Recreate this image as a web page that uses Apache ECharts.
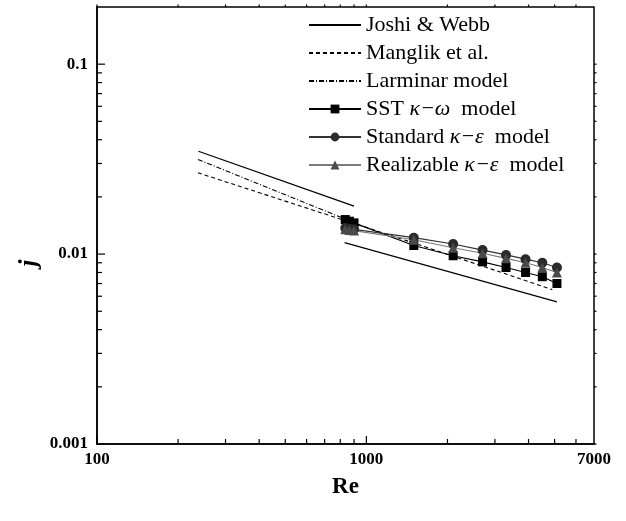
<!DOCTYPE html>
<html><head><meta charset="utf-8">
<script src="https://cdn.jsdelivr.net/npm/echarts@6/dist/echarts.min.js"></script>
<style>html,body{margin:0;padding:0;background:#fff}#c{width:626px;height:521px}</style>
</head><body><div id="c"></div>
<script>
// ---- data ----
const reJW1 = [238, 900];            const jJW1 = [0.0348, 0.0179];
const reJW2 = [830, 5100];           const jJW2 = [0.0115, 0.0056];
const reMang = [237, 812, 1540, 4900]; const jMang = [0.0268, 0.0152, 0.0113, 0.0065];
const reLam = [237, 815];            const jLam = [0.0315, 0.0155];
const reCFD = [835, 865, 900, 1500, 2100, 2700, 3300, 3900, 4500, 5100];
const jSST  = [0.0152, 0.0149, 0.0146, 0.0111, 0.0098, 0.0091, 0.0085, 0.0080, 0.0076, 0.0070];
const jStd  = [0.0137, 0.0136, 0.0135, 0.0122, 0.0113, 0.0105, 0.0099, 0.0094, 0.0090, 0.0085];
const jReal = [0.0135, 0.0134, 0.0133, 0.0119, 0.0108, 0.0101, 0.0095, 0.0090, 0.0085, 0.0080];
const xMajor = [100, 1000];
const xLabels = [100, 1000, 7000];
const xMinor = [200, 300, 400, 500, 600, 700, 800, 900, 2000, 3000, 4000, 5000, 6000];
const yMajor = [0.001, 0.01, 0.1];
const yMinor = [0.002, 0.003, 0.004, 0.005, 0.006, 0.007, 0.008, 0.009, 0.02, 0.03, 0.04, 0.05, 0.06, 0.07, 0.08, 0.09];
const names = ['Joshi & Webb', 'Manglik et al.', 'Larminar model', 'SST κ−ω model', 'Standard κ−ε model', 'Realizable κ−ε model'];

const zip = (a, b) => a.map((v, i) => [v, b[i]]);
const FONT = "'Liberation Serif','Times New Roman',serif";
const X = {min: 100, max: 7000}, Y = {min: 0.001, max: 0.2};

const chart = echarts.init(document.getElementById('c'), null, {renderer: 'canvas'});
const noSym = {color: 'rgba(0,0,0,0)', borderWidth: 0};
const tickStyle = {stroke: '#000', lineWidth: 1.2};
const seg = (x1, y1, x2, y2) => ({type: 'line', shape: {x1, y1, x2, y2}, style: tickStyle, silent: true});

// tick marks drawn through the axes' own coordinate system
function xTickRender(params, api) {
  const v = api.value(0), major = api.value(1) === 1;
  const pb = api.coord([v, Y.min]), pt = api.coord([v, Y.max]);
  const len = major ? 8 : 5;
  return {type: 'group', children: [seg(pb[0], pb[1], pb[0], pb[1] - len), seg(pt[0], pt[1], pt[0], pt[1] - 2.5)]};
}
function yTickRender(params, api) {
  const v = api.value(0), major = api.value(1) === 1;
  const pl = api.coord([X.min, v]), pr = api.coord([X.max, v]);
  const len = major ? 8 : 5;
  return {type: 'group', children: [seg(pl[0], pl[1], pl[0] + len, pl[1]), seg(pr[0], pr[1], pr[0] + 2.5, pr[1])]};
}
const xTickData = xMajor.map(v => [v, 1]).concat(xMinor.map(v => [v, 0]));
const yTickData = yMajor.map(v => [v, 1]).concat(yMinor.map(v => [v, 0]));

chart.setOption({
  animation: false,
  backgroundColor: '#fff',
  grid: {left: 97, right: 32, top: 7, bottom: 77, show: true, borderColor: '#000', borderWidth: 1.5},
  xAxis: {type: 'log', min: X.min, max: X.max, splitLine: {show: false},
    axisLine: {lineStyle: {color: '#000', width: 1.5}},
    axisTick: {show: false},
    axisLabel: {customValues: xLabels, margin: 7, color: '#000', fontFamily: FONT, fontWeight: 'bold', fontSize: 17,
      formatter: v => String(Math.round(v))},
    name: 'Re', nameLocation: 'middle', nameGap: 32,
    nameTextStyle: {color: '#000', fontFamily: FONT, fontWeight: 'bold', fontSize: 23}},
  yAxis: {type: 'log', min: Y.min, max: Y.max, splitLine: {show: false},
    axisLine: {show: true, lineStyle: {color: '#000', width: 1.5}},
    axisTick: {show: false},
    axisLabel: {customValues: yMajor, margin: 9, color: '#000', fontFamily: FONT, fontWeight: 'bold', fontSize: 17,
      formatter: v => (v >= 0.1 ? '0.1' : v >= 0.01 ? '0.01' : '0.001')}},
  graphic: [{type: 'text', x: 30, y: 263, rotation: Math.PI / 2,
    style: {text: 'j', font: "italic bold 25px 'Liberation Serif', serif", fill: '#000', align: 'center', verticalAlign: 'middle'}}],
  legend: {
    orient: 'vertical', left: 308, top: 14, padding: 0, itemGap: 6,
    itemWidth: 52, itemHeight: 11, selectedMode: false,
    data: [
      {name: names[0], itemStyle: noSym},
      {name: names[1], itemStyle: noSym},
      {name: names[2], itemStyle: noSym},
      names[3], names[4], names[5]
    ],
    textStyle: {color: '#000', fontFamily: FONT, fontSize: 22, lineHeight: 22,
      rich: {g: {fontStyle: 'italic', fontFamily: FONT, fontSize: 22, color: '#000', lineHeight: 22}}},
    formatter: n => n.replace(/(κ−[ωε])/, '{g|$1} ')
  },
  series: [
    {type: 'custom', name: 'xticks', data: xTickData, renderItem: xTickRender, clip: false, silent: true, z: 10,
      encode: {x: 0}},
    {type: 'custom', name: 'yticks', data: yTickData, renderItem: yTickRender, clip: false, silent: true, z: 10,
      encode: {y: 0}},
    {name: names[0], type: 'line', data: zip(reJW1, jJW1), symbol: 'none', lineStyle: {color: '#000', width: 1.2}, itemStyle: {color: '#000'}},
    {name: names[0], type: 'line', data: zip(reJW2, jJW2), symbol: 'none', lineStyle: {color: '#000', width: 1.2}, itemStyle: {color: '#000'}},
    {name: names[1], type: 'line', data: zip(reMang, jMang), symbol: 'none', lineStyle: {color: '#000', width: 1.1, type: [4, 3]}, itemStyle: {color: '#000'}},
    {name: names[2], type: 'line', data: zip(reLam, jLam), symbol: 'none', lineStyle: {color: '#000', width: 1.1, type: [5, 2, 1, 2]}, itemStyle: {color: '#000'}},
    {name: names[3], type: 'line', data: zip(reCFD, jSST), symbol: 'rect', symbolSize: 9, lineStyle: {color: '#000', width: 1.2}, itemStyle: {color: '#000'}},
    {name: names[4], type: 'line', data: zip(reCFD, jStd), symbol: 'circle', symbolSize: 10, lineStyle: {color: '#333', width: 1.2}, itemStyle: {color: '#2a2a2a'}},
    {name: names[5], type: 'line', data: zip(reCFD, jReal), symbol: 'triangle', symbolSize: 10, lineStyle: {color: '#7a7a7a', width: 1.2}, itemStyle: {color: '#4a4a4a'}}
  ]
});
</script></body></html>
